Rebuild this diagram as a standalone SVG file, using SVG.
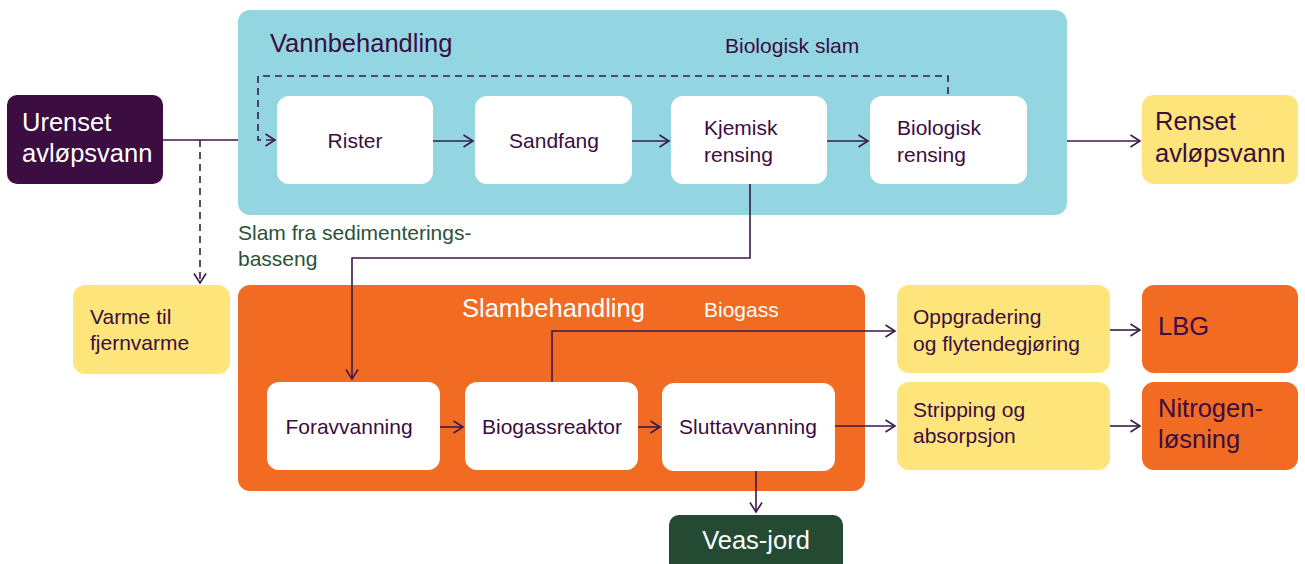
<svg xmlns="http://www.w3.org/2000/svg" width="1305" height="564" viewBox="0 0 1305 564">
<style>
text{font-family:"Liberation Sans",Arial,sans-serif;fill:#3B0D40}
.sm{font-size:21px}
.lg{font-size:25.5px}
.w{fill:#fff}
.box{fill:#fff}
.yel{fill:#FDE57C}
.org{fill:#F26B23}
.ln{fill:none;stroke:#3B1A48;stroke-width:1.6}
.dash{stroke-dasharray:7 5}
</style>
<defs>
<marker id="ah" viewBox="0 0 12 14" refX="10.5" refY="7" markerWidth="12" markerHeight="14" markerUnits="userSpaceOnUse" orient="auto">
<path d="M1,1 L10.5,7 L1,13" fill="none" stroke="#3B1A48" stroke-width="1.6"/>
</marker>
</defs>

<g id="vannbehandling">
<rect x="238" y="10" width="829" height="205" rx="12" fill="#93D5E1"/>
<text x="270" y="52" class="lg">Vannbehandling</text>
<text x="725" y="53" class="sm">Biologisk slam</text>
</g>
<g id="slambehandling">
<rect x="238" y="285" width="627" height="206" rx="12" class="org"/>
<text x="462" y="317" class="lg w">Slambehandling</text>
<text x="704" y="317" class="sm w">Biogass</text>
</g>

<g id="urenset">
<rect x="7" y="95" width="156" height="89" rx="10" fill="#3B0D40"/>
<text x="22" y="131" class="lg w">Urenset</text>
<text x="22" y="162" class="lg w">avløpsvann</text>
</g>
<g id="rister">
<rect x="277" y="96" width="156" height="88" rx="12" class="box"/>
<text x="355" y="148" class="sm" text-anchor="middle">Rister</text>
</g>
<g id="sandfang">
<rect x="475" y="96" width="157" height="88" rx="12" class="box"/>
<text x="554" y="148" class="sm" text-anchor="middle">Sandfang</text>
</g>
<g id="kjemisk">
<rect x="671" y="96" width="156" height="88" rx="12" class="box"/>
<text x="704" y="135" class="sm">Kjemisk</text>
<text x="704" y="162" class="sm">rensing</text>
</g>
<g id="biologisk">
<rect x="870" y="96" width="157" height="88" rx="12" class="box"/>
<text x="897" y="135" class="sm">Biologisk</text>
<text x="897" y="162" class="sm">rensing</text>
</g>
<g id="renset">
<rect x="1142" y="95" width="156" height="89" rx="12" class="yel"/>
<text x="1155" y="130" class="lg">Renset</text>
<text x="1155" y="162" class="lg">avløpsvann</text>
</g>
<g id="varme">
<rect x="73" y="285" width="157" height="89" rx="12" class="yel"/>
<text x="90" y="324" class="sm">Varme til</text>
<text x="90" y="350" class="sm">fjernvarme</text>
</g>
<g id="slamlabel">
<text x="238" y="240" class="sm" style="fill:#2B5237">Slam fra sedimenterings-</text>
<text x="238" y="266" class="sm" style="fill:#2B5237">basseng</text>
</g>
<g id="foravvanning">
<rect x="267" y="382" width="173" height="88" rx="12" class="box"/>
<text x="349" y="434" class="sm" text-anchor="middle">Foravvanning</text>
</g>
<g id="biogassreaktor">
<rect x="465" y="382" width="173" height="88" rx="12" class="box"/>
<text x="552" y="434" class="sm" text-anchor="middle">Biogassreaktor</text>
</g>
<g id="sluttavvanning">
<rect x="662" y="383" width="173" height="88" rx="12" class="box"/>
<text x="748" y="434" class="sm" text-anchor="middle">Sluttavvanning</text>
</g>
<g id="veasjord">
<rect x="669" y="515" width="174" height="60" rx="10" fill="#244A33"/>
<text x="756" y="549" class="lg w" text-anchor="middle">Veas-jord</text>
</g>
<g id="oppgradering">
<rect x="897" y="285" width="213" height="88" rx="12" class="yel"/>
<text x="913" y="324" class="sm">Oppgradering</text>
<text x="913" y="351" class="sm">og flytendegjøring</text>
</g>
<g id="stripping">
<rect x="897" y="382" width="213" height="88" rx="12" class="yel"/>
<text x="913" y="417" class="sm">Stripping og</text>
<text x="913" y="443" class="sm">absorpsjon</text>
</g>
<g id="lbg">
<rect x="1142" y="285" width="156" height="88" rx="12" class="org"/>
<text x="1158" y="335" class="lg">LBG</text>
</g>
<g id="nitrogen">
<rect x="1142" y="382" width="156" height="88" rx="12" class="org"/>
<text x="1158" y="417" class="lg">Nitrogen-</text>
<text x="1158" y="448" class="lg">løsning</text>
</g>

<g id="connectors">
<path class="ln" d="M163,140 H238"/>
<path class="ln dash" d="M200,140 V283" marker-end="url(#ah)"/>
<path class="ln dash" d="M948,94 V76 H258 V140 H275" marker-end="url(#ah)"/>
<path class="ln" d="M433,141 H473" marker-end="url(#ah)"/>
<path class="ln" d="M632,141 H669" marker-end="url(#ah)"/>
<path class="ln" d="M827,141 H868" marker-end="url(#ah)"/>
<path class="ln" d="M1067,141 H1140" marker-end="url(#ah)"/>
<path class="ln" d="M750,184 V258 H352 V379" marker-end="url(#ah)"/>
<path class="ln" d="M440,427 H463" marker-end="url(#ah)"/>
<path class="ln" d="M638,427 H660" marker-end="url(#ah)"/>
<path class="ln" d="M552,382 V331 H895" marker-end="url(#ah)"/>
<path class="ln" d="M835,426 H895" marker-end="url(#ah)"/>
<path class="ln" d="M1110,330 H1140" marker-end="url(#ah)"/>
<path class="ln" d="M1110,426 H1140" marker-end="url(#ah)"/>
<path class="ln" d="M756,471 V512" marker-end="url(#ah)"/>
</g>
</svg>
